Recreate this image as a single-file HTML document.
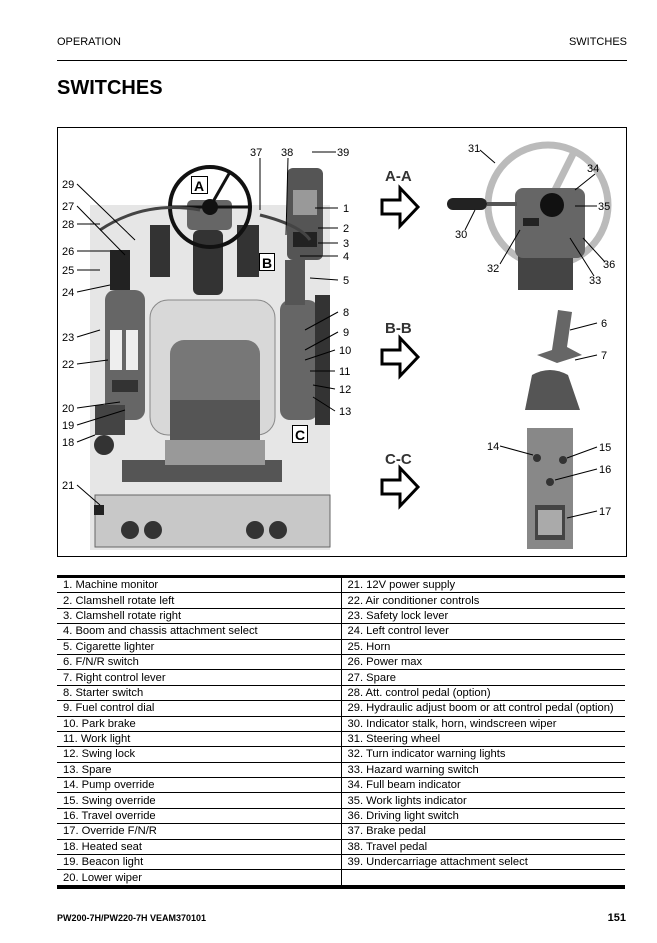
<!DOCTYPE html>
<html><head><meta charset="utf-8"><style>
body{margin:0;background:#fff;width:657px;height:943px;position:relative;font-family:"Liberation Sans",Arial,sans-serif;overflow:hidden}
.a{position:absolute}
table{position:absolute;left:57px;top:575px;width:568px;border-collapse:collapse;border-top:3px solid #000;border-bottom:4px solid #000;font-size:11.2px}
td{height:14.4px;padding:0 0 0 6px;border-bottom:1px solid #000;line-height:14px;white-space:nowrap;width:50%}
td:first-child{border-right:1px solid #000}
tr:last-child td{border-bottom:none}
</style></head><body>
<div class="a" style="left:57px;top:36px;font-size:11px">OPERATION</div>
<div class="a" style="right:30px;top:36px;font-size:11px">SWITCHES</div>
<div class="a" style="left:57px;top:60px;width:570px;height:1px;background:#000"></div>
<div class="a" style="left:57px;top:77px;font-size:20px;font-weight:bold">SWITCHES</div>
<svg class="a" style="left:0;top:0" width="657" height="943" font-family="Liberation Sans,Arial,sans-serif" font-size="11">
<rect x="57.5" y="127.5" width="569" height="429" fill="none" stroke="#000"/>
<!-- cab -->
<rect x="90" y="205" width="240" height="345" fill="#e6e6e6"/>
<rect x="95" y="495" width="235" height="52" fill="#c8c8c8" stroke="#666"/>
<circle cx="130" cy="530" r="9" fill="#333"/><circle cx="153" cy="530" r="9" fill="#333"/>
<circle cx="255" cy="530" r="9" fill="#333"/><circle cx="278" cy="530" r="9" fill="#333"/>
<rect x="122" y="460" width="160" height="22" fill="#555"/>
<rect x="150" y="300" width="125" height="135" rx="18" fill="#d8d8d8" stroke="#888"/>
<rect x="170" y="340" width="90" height="100" rx="14" fill="#777"/>
<rect x="170" y="400" width="90" height="40" fill="#555"/>
<rect x="165" y="440" width="100" height="25" fill="#999"/>
<rect x="105" y="290" width="40" height="130" rx="10" fill="#666"/>
<rect x="110" y="330" width="12" height="40" fill="#eee"/><rect x="126" y="330" width="12" height="40" fill="#eee"/>
<rect x="112" y="380" width="26" height="12" fill="#333"/>
<rect x="280" y="300" width="38" height="120" rx="10" fill="#666"/>
<rect x="315" y="295" width="15" height="130" fill="#333"/>
<rect x="287" y="168" width="36" height="92" rx="6" fill="#555"/>
<rect x="293" y="190" width="24" height="25" fill="#999"/>
<rect x="293" y="232" width="24" height="15" fill="#222"/>
<rect x="150" y="225" width="20" height="52" fill="#333"/>
<rect x="237" y="225" width="22" height="52" fill="#333"/>
<rect x="193" y="230" width="30" height="65" rx="6" fill="#333"/>
<rect x="187" y="200" width="45" height="30" rx="5" fill="#666"/>
<circle cx="210" cy="207" r="40" fill="none" stroke="#111" stroke-width="4"/>
<circle cx="210" cy="207" r="8" fill="#111"/>
<line x1="170" y1="207" x2="250" y2="207" stroke="#111" stroke-width="3"/>
<line x1="210" y1="207" x2="230" y2="172" stroke="#111" stroke-width="3"/>
<rect x="95" y="405" width="30" height="30" fill="#444"/><circle cx="104" cy="445" r="10" fill="#333"/>
<path d="M100 230 Q145 200 200 210 M260 215 Q300 225 310 240" fill="none" stroke="#444" stroke-width="3"/>
<rect x="110" y="250" width="20" height="40" fill="#222"/>
<rect x="285" y="260" width="20" height="45" fill="#555"/>
<rect x="94" y="505" width="10" height="10" fill="#222"/>
<!-- boxed letters -->
<g font-size="14" font-weight="bold" fill="#000">
<rect x="191.5" y="176.5" width="16" height="17" fill="#fff" stroke="#000"/><text x="194" y="191">A</text>
<rect x="259.5" y="253.5" width="15" height="17" fill="#fff" stroke="#000"/><text x="262" y="268">B</text>
<rect x="292.5" y="425.5" width="15" height="17" fill="#fff" stroke="#000"/><text x="295" y="440">C</text>
</g>
<g fill="#000">
<text x="62" y="188">29</text><text x="62" y="210">27</text><text x="62" y="228">28</text><text x="62" y="255">26</text><text x="62" y="274">25</text><text x="62" y="296">24</text><text x="62" y="341">23</text><text x="62" y="368">22</text><text x="62" y="412">20</text><text x="62" y="429">19</text><text x="62" y="446">18</text><text x="62" y="489">21</text>
<text x="250" y="156">37</text><text x="281" y="156">38</text><text x="337" y="156">39</text>
<text x="343" y="212">1</text><text x="343" y="232">2</text><text x="343" y="247">3</text><text x="343" y="260">4</text><text x="343" y="284">5</text><text x="343" y="316">8</text><text x="343" y="336">9</text><text x="339" y="354">10</text><text x="339" y="375">11</text><text x="339" y="393">12</text><text x="339" y="415">13</text>
</g>
<g stroke="#000" stroke-width="1">
<line x1="77" y1="184" x2="135" y2="240"/><line x1="77" y1="206" x2="125" y2="255"/><line x1="77" y1="224" x2="100" y2="224"/><line x1="77" y1="251" x2="110" y2="251"/><line x1="77" y1="270" x2="100" y2="270"/><line x1="77" y1="292" x2="110" y2="285"/><line x1="77" y1="337" x2="100" y2="330"/><line x1="77" y1="364" x2="108" y2="360"/><line x1="77" y1="408" x2="120" y2="402"/><line x1="77" y1="425" x2="125" y2="410"/><line x1="77" y1="442" x2="95" y2="435"/><line x1="77" y1="485" x2="100" y2="505"/>
<line x1="260" y1="158" x2="260" y2="210"/><line x1="288" y1="158" x2="286" y2="235"/><line x1="336" y1="152" x2="312" y2="152"/>
<line x1="338" y1="208" x2="315" y2="208"/><line x1="338" y1="228" x2="318" y2="228"/><line x1="338" y1="243" x2="318" y2="243"/><line x1="338" y1="256" x2="300" y2="256"/><line x1="338" y1="280" x2="310" y2="278"/><line x1="338" y1="312" x2="305" y2="330"/><line x1="338" y1="332" x2="305" y2="350"/><line x1="335" y1="350" x2="305" y2="360"/><line x1="335" y1="371" x2="310" y2="371"/><line x1="335" y1="389" x2="313" y2="385"/><line x1="335" y1="411" x2="313" y2="397"/>
</g>
<!-- section labels + arrows -->
<g font-size="15" font-weight="bold" fill="#333">
<text x="385" y="181">A-A</text><text x="385" y="333">B-B</text><text x="385" y="464">C-C</text>
</g>
<g fill="#fff" stroke="#000" stroke-width="2">
<path d="M382 200 h18 v-12 l18 19 l-18 19 v-12 h-18z" stroke-width="3"/>
<path d="M382 350 h18 v-12 l18 19 l-18 19 v-12 h-18z" stroke-width="3"/>
<path d="M382 480 h18 v-12 l18 19 l-18 19 v-12 h-18z" stroke-width="3"/>
</g>
<!-- A-A -->
<circle cx="548" cy="205" r="60" fill="none" stroke="#bbb" stroke-width="7"/>
<line x1="550" y1="200" x2="575" y2="150" stroke="#bbb" stroke-width="7"/>
<rect x="518" y="245" width="55" height="45" fill="#444"/>
<rect x="515" y="188" width="70" height="70" rx="8" fill="#666"/>
<circle cx="552" cy="205" r="12" fill="#111"/>
<rect x="447" y="198" width="40" height="12" rx="6" fill="#222"/>
<line x1="487" y1="204" x2="517" y2="204" stroke="#555" stroke-width="4"/>
<rect x="523" y="218" width="16" height="8" fill="#222"/>
<!-- B-B -->
<path d="M558 310 l14 2 l-5 35 l15 8 l-25 8 l-20 -8 l15 -5z" fill="#666"/>
<path d="M532 375 q18 -10 36 0 l12 35 h-55z" fill="#555"/>
<!-- C-C -->
<rect x="527" y="428" width="46" height="121" fill="#888"/>
<rect x="535" y="505" width="30" height="35" fill="#444"/>
<rect x="538" y="510" width="24" height="25" fill="#aaa"/>
<circle cx="537" cy="458" r="4" fill="#333"/><circle cx="563" cy="460" r="4" fill="#333"/><circle cx="550" cy="482" r="4" fill="#333"/>
<g fill="#000">
<text x="468" y="152">31</text><text x="587" y="172">34</text><text x="598" y="210">35</text><text x="455" y="238">30</text><text x="487" y="272">32</text><text x="603" y="268">36</text><text x="589" y="284">33</text>
<text x="601" y="327">6</text><text x="601" y="359">7</text>
<text x="487" y="450">14</text><text x="599" y="451">15</text><text x="599" y="473">16</text><text x="599" y="515">17</text>
</g>
<g stroke="#000">
<line x1="480" y1="150" x2="495" y2="163"/><line x1="595" y1="174" x2="575" y2="190"/><line x1="597" y1="206" x2="575" y2="206"/><line x1="465" y1="230" x2="475" y2="210"/><line x1="500" y1="264" x2="520" y2="230"/><line x1="605" y1="262" x2="583" y2="238"/><line x1="594" y1="276" x2="570" y2="238"/>
<line x1="597" y1="323" x2="570" y2="330"/><line x1="597" y1="355" x2="575" y2="360"/>
<line x1="500" y1="446" x2="533" y2="455"/><line x1="597" y1="447" x2="567" y2="458"/><line x1="597" y1="469" x2="555" y2="480"/><line x1="597" y1="511" x2="567" y2="518"/>
</g>
</svg>
<table>
<tr><td>1. Machine monitor</td><td>21. 12V power supply</td></tr>
<tr><td>2. Clamshell rotate left</td><td>22. Air conditioner controls</td></tr>
<tr><td>3. Clamshell rotate right</td><td>23. Safety lock lever</td></tr>
<tr><td>4. Boom and chassis attachment select</td><td>24. Left control lever</td></tr>
<tr><td>5. Cigarette lighter</td><td>25. Horn</td></tr>
<tr><td>6. F/N/R switch</td><td>26. Power max</td></tr>
<tr><td>7. Right control lever</td><td>27. Spare</td></tr>
<tr><td>8. Starter switch</td><td>28. Att. control pedal (option)</td></tr>
<tr><td>9. Fuel control dial</td><td>29. Hydraulic adjust boom or att control pedal (option)</td></tr>
<tr><td>10. Park brake</td><td>30. Indicator stalk, horn, windscreen wiper</td></tr>
<tr><td>11. Work light</td><td>31. Steering wheel</td></tr>
<tr><td>12. Swing lock</td><td>32. Turn indicator warning lights</td></tr>
<tr><td>13. Spare</td><td>33. Hazard warning switch</td></tr>
<tr><td>14. Pump override</td><td>34. Full beam indicator</td></tr>
<tr><td>15. Swing override</td><td>35. Work lights indicator</td></tr>
<tr><td>16. Travel override</td><td>36. Driving light switch</td></tr>
<tr><td>17. Override F/N/R</td><td>37. Brake pedal</td></tr>
<tr><td>18. Heated seat</td><td>38. Travel pedal</td></tr>
<tr><td>19. Beacon light</td><td>39. Undercarriage attachment select</td></tr>
<tr><td>20. Lower wiper</td><td></td></tr>
</table>
<div class="a" style="left:57px;top:913px;font-size:9px;font-weight:bold">PW200-7H/PW220-7H VEAM370101</div>
<div class="a" style="right:31px;top:912px;font-size:11px;font-weight:bold">151</div>
</body></html>
